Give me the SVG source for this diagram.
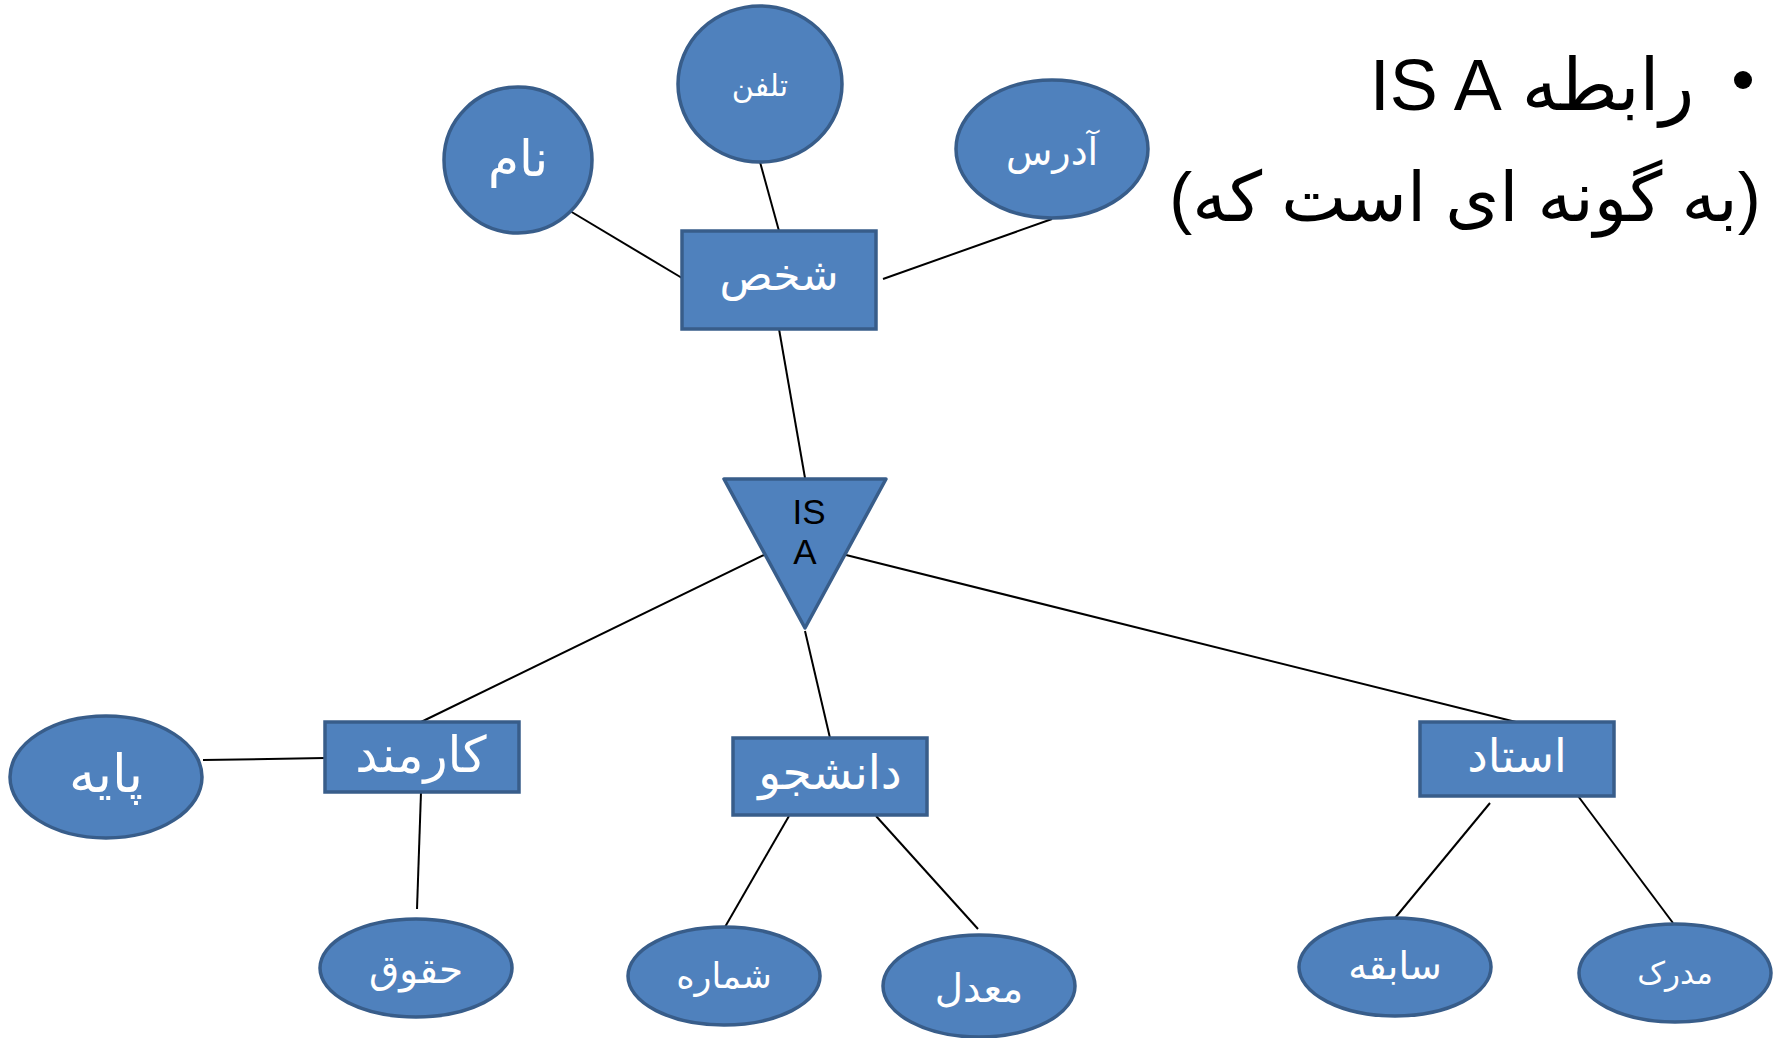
<svg xmlns="http://www.w3.org/2000/svg" width="1781" height="1038" viewBox="0 0 1781 1038">
<style>
.n{fill:#4F81BD;stroke:#385D8A;stroke-width:3.5}
.t{fill:#fff;font-family:"DejaVu Sans","Noto Sans",sans-serif;text-anchor:middle;direction:rtl}
.c{stroke:#000;stroke-width:2;fill:none}
.h{fill:#000;font-family:"Liberation Sans","DejaVu Sans",sans-serif;text-anchor:middle;direction:rtl}
</style>
<rect width="1781" height="1038" fill="#fff"/>
<g id="title">
<circle cx="1743" cy="80" r="9" fill="#000"/>
<text class="h" x="1532" y="110" font-size="72">رابطه IS A</text>
<text class="h" x="1465" y="221" font-size="69">(به گونه ای است که)</text>
</g>
<g id="connectors">
<line class="c" x1="570" y1="211" x2="682" y2="278"/>
<line class="c" x1="760" y1="162" x2="779" y2="231"/>
<line class="c" x1="1052" y1="219" x2="883" y2="279"/>
<line class="c" x1="779" y1="329" x2="805" y2="478"/>
<line class="c" x1="764" y1="555" x2="421" y2="722"/>
<line class="c" x1="805" y1="631" x2="830" y2="738"/>
<line class="c" x1="846" y1="555" x2="1516" y2="722"/>
<line class="c" x1="203" y1="760" x2="325" y2="758"/>
<line class="c" x1="421" y1="792" x2="417" y2="909"/>
<line class="c" x1="789" y1="816" x2="725" y2="927"/>
<line class="c" x1="876" y1="816" x2="978" y2="929"/>
<line class="c" x1="1490" y1="803" x2="1395" y2="918"/>
<line class="c" x1="1578" y1="796" x2="1673" y2="923"/>
</g>
<g id="nam"><ellipse class="n" cx="518" cy="160" rx="74" ry="73"/><text class="t" x="518" y="176" font-size="50">نام</text></g>
<g id="telefon"><ellipse class="n" cx="760" cy="84" rx="82" ry="78"/><text class="t" x="760" y="96" font-size="30">تلفن</text></g>
<g id="address"><ellipse class="n" cx="1052" cy="149" rx="96" ry="69"/><text class="t" x="1052" y="165" font-size="38">آدرس</text></g>
<g id="shakhs"><rect class="n" x="682" y="231" width="194" height="98"/><text class="t" x="779" y="290" font-size="44">شخص</text></g>
<g id="isa"><polygon class="n" points="724,479 886,479 805,628" stroke-linejoin="round"/><text x="809" y="524" font-size="35" font-family="Liberation Sans, sans-serif" text-anchor="middle">IS</text><text x="805" y="564" font-size="35" font-family="Liberation Sans, sans-serif" text-anchor="middle">A</text></g>
<g id="karmand"><rect class="n" x="325" y="722" width="194" height="70"/><text class="t" x="421" y="772" font-size="50">کارمند</text></g>
<g id="payeh"><ellipse class="n" cx="106" cy="777" rx="96" ry="61"/><text class="t" x="106" y="792" font-size="53">پایه</text></g>
<g id="hoghoogh"><ellipse class="n" cx="416" cy="968" rx="96" ry="49"/><text class="t" x="416" y="983" font-size="39">حقوق</text></g>
<g id="daneshjoo"><rect class="n" x="733" y="738" width="194" height="77"/><text class="t" x="830" y="789" font-size="47">دانشجو</text></g>
<g id="shomareh"><ellipse class="n" cx="724" cy="976" rx="96" ry="49"/><text class="t" x="724" y="988" font-size="35">شماره</text></g>
<g id="moadel"><ellipse class="n" cx="979" cy="986" rx="96" ry="51"/><text class="t" x="979" y="1002" font-size="39">معدل</text></g>
<g id="ostad"><rect class="n" x="1420" y="722" width="194" height="74"/><text class="t" x="1517" y="772" font-size="46">استاد</text></g>
<g id="sabegheh"><ellipse class="n" cx="1395" cy="967" rx="96" ry="49"/><text class="t" x="1395" y="979" font-size="38">سابقه</text></g>
<g id="madrak"><ellipse class="n" cx="1675" cy="973" rx="96" ry="49"/><text class="t" x="1675" y="984" font-size="31">مدرک</text></g>
</svg>
